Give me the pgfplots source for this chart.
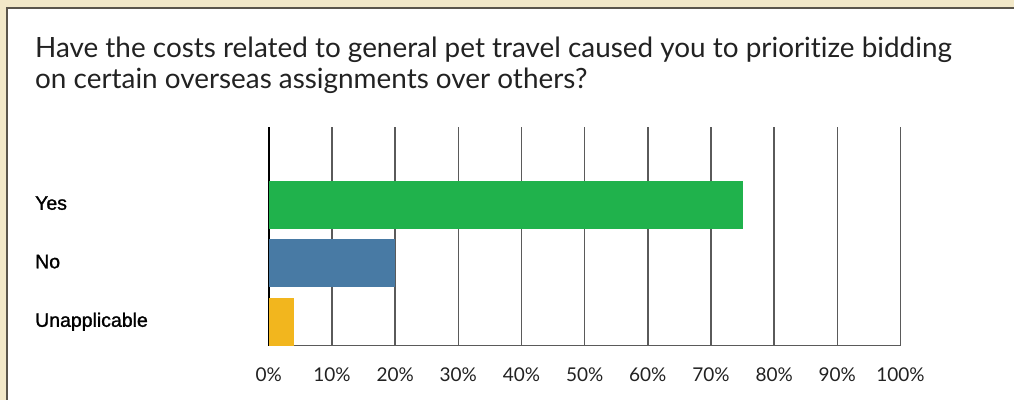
\documentclass[border=0pt]{standalone}
\usepackage{pgfplots}
\pgfplotsset{compat=1.18}
\usepackage{fontspec}
\setmainfont{Lato}[Ligatures=NoCommon]
\newfontfamily\catfont{Liberation Sans}[FakeBold=1.3]
\definecolor{cream}{RGB}{242,232,200}
\definecolor{panelline}{RGB}{90,85,75}
\definecolor{gridc}{RGB}{90,90,90}
\definecolor{barG}{RGB}{32,178,76}
\definecolor{barB}{RGB}{72,122,164}
\definecolor{barY}{RGB}{242,182,30}
\definecolor{txt}{RGB}{34,34,34}
\begin{document}
\begin{tikzpicture}[x=1pt,y=1pt]
\fill[cream] (0,0) rectangle (1015,400);
\fill[white] (7,0) rectangle (1015,392);
\draw[panelline, line width=1.2pt] (7,0) -- (7,392) -- (1015,392);
\useasboundingbox (0,0) rectangle (1015,400);
\node[anchor=base west, inner sep=0pt, font=\fontsize{27.9}{32}\selectfont, text=txt] at (35,342) {Have the costs related to general pet travel caused you to prioritize bidding};
\node[anchor=base west, inner sep=0pt, font=\fontsize{27.9}{32}\selectfont, text=txt] at (35,311) {on certain overseas assignments over others?};
\begin{axis}[
  at={(269pt,54pt)}, anchor=south west,
  scale only axis, width=632pt, height=219pt,
  xmin=0, xmax=100, ymin=-0.41, ymax=3.33,
  xbar, bar width=48pt, bar shift=0pt,
  axis x line=bottom, axis y line=left,
  axis line style={-},
  x axis line style={gridc, line width=1.4pt},
  y axis line style={black, line width=1.4pt},
  xtick={0,10,...,100},
  xticklabel={\pgfmathprintnumber{\tick}\%},
  /pgf/number format/assume math mode=true,
  ytick={0,1,2}, yticklabels={Unapplicable,No,Yes},
  major tick length=0pt,
  xmajorgrids, major grid style={gridc, line width=1.4pt},
  xticklabel style={anchor=base, yshift=-36pt, font=\fontsize{19}{22}\selectfont, text=txt},
  yticklabel style={anchor=base west, inner sep=0pt, xshift=-234pt, yshift=-5pt, font=\catfont\fontsize{19.5}{22}\selectfont, text=black},
  clip=false,
]
\addplot[fill=barG, draw=none] coordinates {(75,2)};
\addplot[fill=barB, draw=none] coordinates {(20,1)};
\addplot[fill=barY, draw=none] coordinates {(4,0)};
\end{axis}
\end{tikzpicture}
\end{document}
